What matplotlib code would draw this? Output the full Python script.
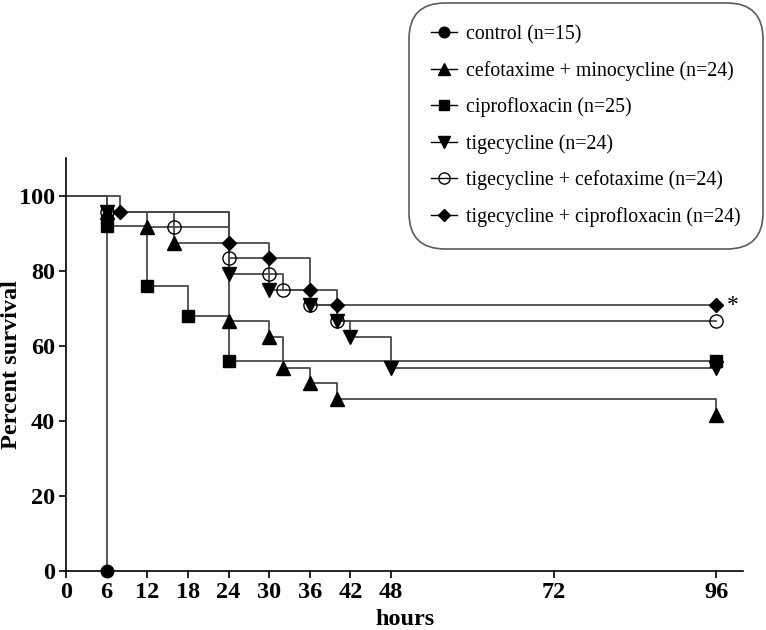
import matplotlib
matplotlib.use("Agg")
import matplotlib.pyplot as plt

plt.rcParams['font.family'] = ['Liberation Serif', 'DejaVu Serif']

# Kaplan-Meier steps (hours, percent survival)
control_t = [0, 6]
control_s = [100, 0]
cefmino_t = [0, 6, 12, 16, 24, 30, 32, 36, 40, 96]
cefmino_s = [100, 95.8, 91.7, 87.5, 66.7, 62.5, 54.2, 50.0, 45.8, 41.7]
cipro_t = [0, 6, 12, 18, 24, 96]
cipro_s = [100, 92, 76, 68, 56, 56]
tige_t = [0, 6, 24, 30, 36, 40, 42, 48, 96]
tige_s = [100, 95.8, 79.2, 75.0, 70.8, 66.7, 62.5, 54.2, 54.2]
tigecef_t = [0, 6, 16, 24, 30, 32, 36, 40, 96]
tigecef_s = [100, 95.8, 91.7, 83.3, 79.2, 75.0, 70.8, 66.7, 66.7]
tigecip_t = [0, 8, 24, 30, 36, 40, 96]
tigecip_s = [100, 95.8, 87.5, 83.3, 75.0, 70.8, 70.8]

labels = ["control (n=15)", "cefotaxime + minocycline (n=24)", "ciprofloxacin (n=25)",
          "tigecycline (n=24)", "tigecycline + cefotaxime (n=24)", "tigecycline + ciprofloxacin (n=24)"]
xticks = [0, 6, 12, 18, 24, 30, 36, 42, 48, 72, 96]

series = [(control_t, control_s, 'o', 'black', 9),
          (cefmino_t, cefmino_s, '^', 'black', 9.5),
          (cipro_t, cipro_s, 's', 'black', 9),
          (tige_t, tige_s, 'v', 'black', 9.5),
          (tigecef_t, tigecef_s, 'o', 'none', 9.5),
          (tigecip_t, tigecip_s, 'D', 'black', 7)]

fig = plt.figure(figsize=(7.66, 6.30), dpi=100)
ax = fig.add_axes([0.0862, 0.0937, 0.884, 0.655])

line_col = '#4a4a4a'
handles = []
for (t, s, m, fc, ms), lab in zip(series, labels):
    ax.step(t, s, where='post', color=line_col, lw=1.3, zorder=2)
    ax.plot(t[1:], s[1:], ls='none', marker=m, ms=ms, mfc=fc, mec='black', mew=1.0,
            zorder=3, clip_on=False)
    h, = ax.plot([], [], color='black', lw=1.0, marker=m, ms=ms * 0.85, mfc=fc, mec='black', label=lab)
    handles.append(h)

ax.text(98.5, 70.8, '*', fontsize=17, ha='center', va='center')

ax.set_xlim(0, 100)
ax.set_ylim(0, 110)
ax.set_xticks(xticks)
ax.set_yticks([0, 20, 40, 60, 80, 100])
ax.spines['top'].set_visible(False)
ax.spines['right'].set_visible(False)
for sp in ['left', 'bottom']:
    ax.spines[sp].set_linewidth(1.2)
ax.tick_params(direction='out', length=5, width=1.2, labelsize=17.5, pad=3)
for lbl in ax.get_xticklabels() + ax.get_yticklabels():
    lbl.set_fontweight('bold')
ax.set_xlabel('hours', fontsize=17.5, fontweight='bold', va='center')
ax.set_ylabel('Percent survival', fontsize=17.5, fontweight='bold', va='center')
ax.xaxis.set_label_coords(0.5, -0.118)
ax.yaxis.set_label_coords(-0.08, 0.5)

lgd = fig.legend(handles=handles, loc='upper right', bbox_to_anchor=(0.996, 0.995),
                 fontsize=14.3, handlelength=1.3, handletextpad=0.5, labelspacing=0.84,
                 borderpad=1.1, borderaxespad=0, frameon=True, fancybox=True)
fr = lgd.get_frame()
fr.set_edgecolor('#333333')
fr.set_linewidth(1.2)
fr.set_boxstyle('round,pad=0,rounding_size=1.8')

fig.savefig('out.png', dpi=100)
